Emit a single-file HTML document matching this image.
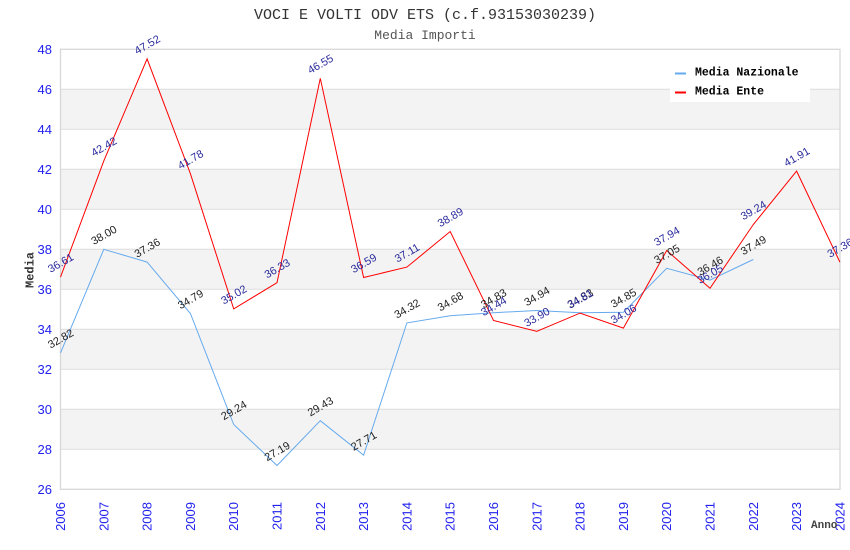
<!DOCTYPE html>
<html><head><meta charset="utf-8"><style>
html,body{margin:0;padding:0;background:#fff;}
svg{display:block;}
</style></head><body>
<svg width="850" height="550" viewBox="0 0 850 550" xmlns="http://www.w3.org/2000/svg">
<rect x="0" y="0" width="850" height="550" fill="#fff"/>
<!-- bands -->
<g fill="#f3f3f3">
<rect x="60.5" y="89.3" width="779.5" height="40"/>
<rect x="60.5" y="169.3" width="779.5" height="40"/>
<rect x="60.5" y="249.3" width="779.5" height="40"/>
<rect x="60.5" y="329.3" width="779.5" height="40"/>
<rect x="60.5" y="409.3" width="779.5" height="40"/>
</g>
<g stroke="#dddddd" stroke-width="1">
<line x1="60.5" y1="89.3" x2="840" y2="89.3"/>
<line x1="60.5" y1="129.3" x2="840" y2="129.3"/>
<line x1="60.5" y1="169.3" x2="840" y2="169.3"/>
<line x1="60.5" y1="209.3" x2="840" y2="209.3"/>
<line x1="60.5" y1="249.3" x2="840" y2="249.3"/>
<line x1="60.5" y1="289.3" x2="840" y2="289.3"/>
<line x1="60.5" y1="329.3" x2="840" y2="329.3"/>
<line x1="60.5" y1="369.3" x2="840" y2="369.3"/>
<line x1="60.5" y1="409.3" x2="840" y2="409.3"/>
<line x1="60.5" y1="449.3" x2="840" y2="449.3"/>
</g>
<rect x="60.5" y="49.3" width="779.5" height="440" fill="none" stroke="#d8d8d8" stroke-width="1.3"/>

<!-- titles -->
<text x="425" y="19" text-anchor="middle" font-family="Liberation Mono, monospace" font-size="15" fill="#333">VOCI E VOLTI ODV ETS (c.f.93153030239)</text>
<text x="425" y="39" text-anchor="middle" font-family="Liberation Mono, monospace" font-size="13" fill="#555">Media Importi</text>

<!-- y ticks -->
<g font-family="Liberation Sans, sans-serif" font-size="13" fill="#2222ee" text-anchor="end">
<text x="52" y="53.8">48</text>
<text x="52" y="93.8">46</text>
<text x="52" y="133.8">44</text>
<text x="52" y="173.8">42</text>
<text x="52" y="213.8">40</text>
<text x="52" y="253.8">38</text>
<text x="52" y="293.8">36</text>
<text x="52" y="333.8">34</text>
<text x="52" y="373.8">32</text>
<text x="52" y="413.8">30</text>
<text x="52" y="453.8">28</text>
<text x="52" y="493.8">26</text>
</g>

<!-- x ticks -->
<g font-family="Liberation Sans, sans-serif" font-size="13" fill="#2222ee" text-anchor="end">
<text transform="translate(65,502) rotate(-90)">2006</text>
<text transform="translate(108.3,502) rotate(-90)">2007</text>
<text transform="translate(151.6,502) rotate(-90)">2008</text>
<text transform="translate(194.9,502) rotate(-90)">2009</text>
<text transform="translate(238.2,502) rotate(-90)">2010</text>
<text transform="translate(281.5,502) rotate(-90)">2011</text>
<text transform="translate(324.8,502) rotate(-90)">2012</text>
<text transform="translate(368.1,502) rotate(-90)">2013</text>
<text transform="translate(411.4,502) rotate(-90)">2014</text>
<text transform="translate(454.7,502) rotate(-90)">2015</text>
<text transform="translate(498,502) rotate(-90)">2016</text>
<text transform="translate(541.3,502) rotate(-90)">2017</text>
<text transform="translate(584.6,502) rotate(-90)">2018</text>
<text transform="translate(627.9,502) rotate(-90)">2019</text>
<text transform="translate(671.2,502) rotate(-90)">2020</text>
<text transform="translate(714.5,502) rotate(-90)">2021</text>
<text transform="translate(757.8,502) rotate(-90)">2022</text>
<text transform="translate(801.1,502) rotate(-90)">2023</text>
<text transform="translate(844.4,502) rotate(-90)">2024</text>
</g>

<text transform="translate(33.5,270) rotate(-90)" text-anchor="middle" font-family="Liberation Mono, monospace" font-weight="bold" font-size="12" fill="#333">Media</text>
<text x="811" y="528" font-family="Liberation Mono, monospace" font-weight="bold" font-size="11" fill="#444">Anno</text>

<!-- series -->
<polyline fill="none" stroke="#66aaee" stroke-width="1" points="60.5,352.9 103.8,249.3 147.1,262.1 190.4,313.5 233.7,424.5 277,465.5 320.3,420.7 363.6,455.1 406.9,322.9 450.2,315.7 493.5,312.7 536.8,310.5 580.1,312.7 623.4,312.3 666.7,268.3 710,280.1 753.3,259.5"/>
<polyline fill="none" stroke="#ff0000" stroke-width="1" points="60.5,277.1 103.8,160.9 147.1,58.9 190.4,173.7 233.7,308.9 277,282.7 320.3,78.3 363.6,277.5 406.9,267.1 450.2,231.5 493.5,320.5 536.8,331.3 580.1,313.1 623.4,328.1 666.7,250.5 710,288.3 753.3,224.5 796.6,171.1 839.9,262.1"/>

<!-- labels blue series -->
<g font-family="Liberation Sans, sans-serif" font-size="11" fill="#222" text-anchor="middle">
<text transform="translate(62.5,341.9) rotate(-30)">32.82</text>
<text transform="translate(105.8,238.3) rotate(-30)">38.00</text>
<text transform="translate(149.1,251.1) rotate(-30)">37.36</text>
<text transform="translate(192.4,302.5) rotate(-30)">34.79</text>
<text transform="translate(235.7,413.5) rotate(-30)">29.24</text>
<text transform="translate(279,454.5) rotate(-30)">27.19</text>
<text transform="translate(322.3,409.7) rotate(-30)">29.43</text>
<text transform="translate(365.6,444.1) rotate(-30)">27.71</text>
<text transform="translate(408.9,311.9) rotate(-30)">34.32</text>
<text transform="translate(452.2,304.7) rotate(-30)">34.68</text>
<text transform="translate(495.5,301.7) rotate(-30)">34.83</text>
<text transform="translate(538.8,299.5) rotate(-30)">34.94</text>
<text transform="translate(582.1,301.7) rotate(-30)">34.83</text>
<text transform="translate(625.4,301.3) rotate(-30)">34.85</text>
<text transform="translate(668.7,257.3) rotate(-30)">37.05</text>
<text transform="translate(712,269.1) rotate(-30)">36.46</text>
<text transform="translate(755.3,248.5) rotate(-30)">37.49</text>
</g>
<!-- labels red series -->
<g font-family="Liberation Sans, sans-serif" font-size="11" fill="#2a2a9c" text-anchor="middle">
<text transform="translate(62.5,266.1) rotate(-30)">36.61</text>
<text transform="translate(105.8,149.9) rotate(-30)">42.42</text>
<text transform="translate(149.1,47.9) rotate(-30)">47.52</text>
<text transform="translate(192.4,162.7) rotate(-30)">41.78</text>
<text transform="translate(235.7,297.9) rotate(-30)">35.02</text>
<text transform="translate(279,271.7) rotate(-30)">36.33</text>
<text transform="translate(322.3,67.3) rotate(-30)">46.55</text>
<text transform="translate(365.6,266.5) rotate(-30)">36.59</text>
<text transform="translate(408.9,256.1) rotate(-30)">37.11</text>
<text transform="translate(452.2,220.5) rotate(-30)">38.89</text>
<text transform="translate(495.5,309.5) rotate(-30)">34.44</text>
<text transform="translate(538.8,320.3) rotate(-30)">33.90</text>
<text transform="translate(582.1,302.1) rotate(-30)">34.81</text>
<text transform="translate(625.4,317.1) rotate(-30)">34.06</text>
<text transform="translate(668.7,239.5) rotate(-30)">37.94</text>
<text transform="translate(712,277.3) rotate(-30)">36.05</text>
<text transform="translate(755.3,213.5) rotate(-30)">39.24</text>
<text transform="translate(798.6,160.1) rotate(-30)">41.91</text>
<text transform="translate(841.9,251.1) rotate(-30)">37.36</text>
</g>

<!-- legend -->
<rect x="670" y="60" width="140" height="42" fill="#fff"/>
<line x1="675" y1="73.5" x2="686" y2="73.5" stroke="#66aaee" stroke-width="2"/>
<line x1="675" y1="92.5" x2="686" y2="92.5" stroke="#ff0000" stroke-width="2"/>
<g font-family="Liberation Mono, monospace" font-weight="bold" font-size="11.5" fill="#000">
<text x="695" y="75.5">Media Nazionale</text>
<text x="695" y="94.5">Media Ente</text>
</g>
</svg>
</body></html>
